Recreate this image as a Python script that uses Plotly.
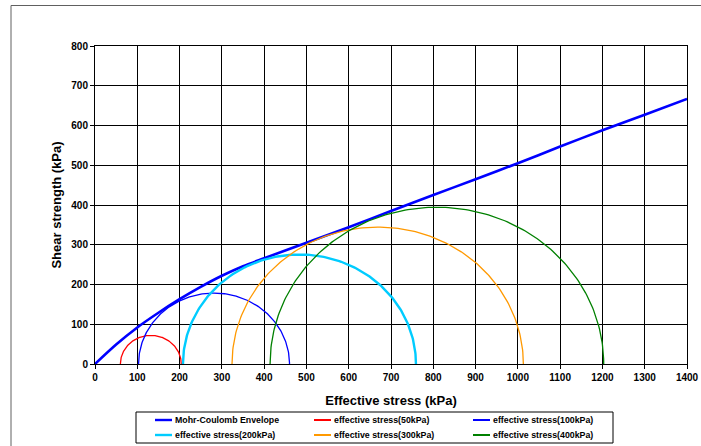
import numpy as np
import plotly.graph_objects as go

# Mohr-Coulomb failure envelope (effective normal stress vs shear strength, kPa)
env_sigma = [0, 50, 100, 150, 200, 250, 300, 350, 400, 500, 600, 700, 800, 900, 1000, 1100, 1200, 1300, 1400]
env_tau = [0, 49, 92, 129, 163, 194, 222, 246, 266, 305, 344, 385, 425, 465, 505, 547, 588, 627, 667]
env_name = "Mohr-Coulomb Envelope"
env_color = "#0000FF"

# Mohr circles at failure: minor and major effective principal stresses (kPa)
circle_names = ["effective stress(50kPa)", "effective stress(100kPa)", "effective stress(200kPa)",
                "effective stress(300kPa)", "effective stress(400kPa)"]
sigma3 = [60, 103, 208, 324, 414]
sigma1 = [204, 460, 759, 1013, 1203]
circle_colors = ["#FF0000", "#0000FF", "#00CCFF", "#FF9900", "#008000"]
circle_widths = [1.3, 1.3, 2.4, 1.3, 1.3]

x_ticks = list(range(0, 1401, 100))
y_ticks = list(range(0, 801, 100))

FONT = "Liberation Sans, Arial"

# plot area geometry in pixels (used to place frame and legend in paper units)
W, H = 701, 446
ML, MR, MT, MB = 95, 14, 46, 82
PW, PH = W - ML - MR, H - MT - MB


def px_x(px):
    return (px - ML) / PW


def px_y(py):
    return (H - MB - py) / PH


fig = go.Figure()

fig.add_trace(go.Scatter(
    x=env_sigma, y=env_tau, mode="lines", name=env_name,
    line=dict(color=env_color, width=2.6, shape="spline", smoothing=0.8),
))

theta = np.linspace(np.pi, 0, 181)
for name, s3, s1, col, w in zip(circle_names, sigma3, sigma1, circle_colors, circle_widths):
    c = (s1 + s3) / 2.0
    r = (s1 - s3) / 2.0
    fig.add_trace(go.Scatter(
        x=c + r * np.cos(theta), y=r * np.sin(theta), mode="lines", name=name,
        line=dict(color=col, width=w),
    ))

axis_common = dict(
    showgrid=True, gridcolor="#000000", gridwidth=1,
    showline=True, linecolor="#000000", linewidth=1, mirror=True,
    ticks="outside", ticklen=4, tickcolor="#000000",
    tickfont=dict(family=FONT, size=10, color="#000000", weight="bold"),
    zeroline=False, automargin=False,
)

# legend box: three columns, two rows
legend_names = [env_name] + circle_names
legend_colors = [env_color] + circle_colors
legend_widths = [2.4, 2, 2, 2.4, 2, 2]
col_left = [155, 314, 473]
row_y = [420, 435]

shapes = [
    # outer chart frame
    dict(type="rect", xref="paper", yref="paper",
         x0=px_x(11), x1=px_x(720), y0=px_y(470), y1=px_y(5.5),
         line=dict(color="#606060", width=1), fillcolor="rgba(0,0,0,0)", layer="below"),
    # legend frame
    dict(type="rect", xref="paper", yref="paper",
         x0=px_x(136), x1=px_x(613), y0=px_y(443), y1=px_y(412),
         line=dict(color="#000000", width=1), fillcolor="#FFFFFF", layer="below"),
]
annotations = []
for i, (nm, col, lw) in enumerate(zip(legend_names, legend_colors, legend_widths)):
    cx = col_left[i % 3]
    cy = row_y[i // 3]
    shapes.append(dict(type="line", xref="paper", yref="paper",
                       x0=px_x(cx), x1=px_x(cx + 17), y0=px_y(cy), y1=px_y(cy),
                       line=dict(color=col, width=lw)))
    annotations.append(dict(text=nm, xref="paper", yref="paper",
                            x=px_x(cx + 18), y=px_y(cy), xanchor="left", yanchor="middle",
                            showarrow=False, font=dict(family=FONT, size=8.8, weight="bold", color="#000000")))

fig.update_layout(
    width=W, height=H,
    margin=dict(l=ML, r=MR, t=MT, b=MB),
    paper_bgcolor="#FFFFFF", plot_bgcolor="#FFFFFF",
    font=dict(family=FONT, color="#000000"),
    xaxis=dict(
        range=[0, 1400], tickvals=x_ticks, ticktext=[str(v) for v in x_ticks],
        title=dict(text="Effective stress (kPa)", standoff=13,
                   font=dict(size=13, weight="bold", family=FONT)),
        **axis_common,
    ),
    yaxis=dict(
        range=[0, 800], tickvals=y_ticks, ticktext=[str(v) for v in y_ticks],
        title=dict(text="Shear strength (kPa)", standoff=6,
                   font=dict(size=13, weight="bold", family=FONT)),
        **axis_common,
    ),
    showlegend=False,
    shapes=shapes,
    annotations=annotations,
)

fig.write_html("out.html")
